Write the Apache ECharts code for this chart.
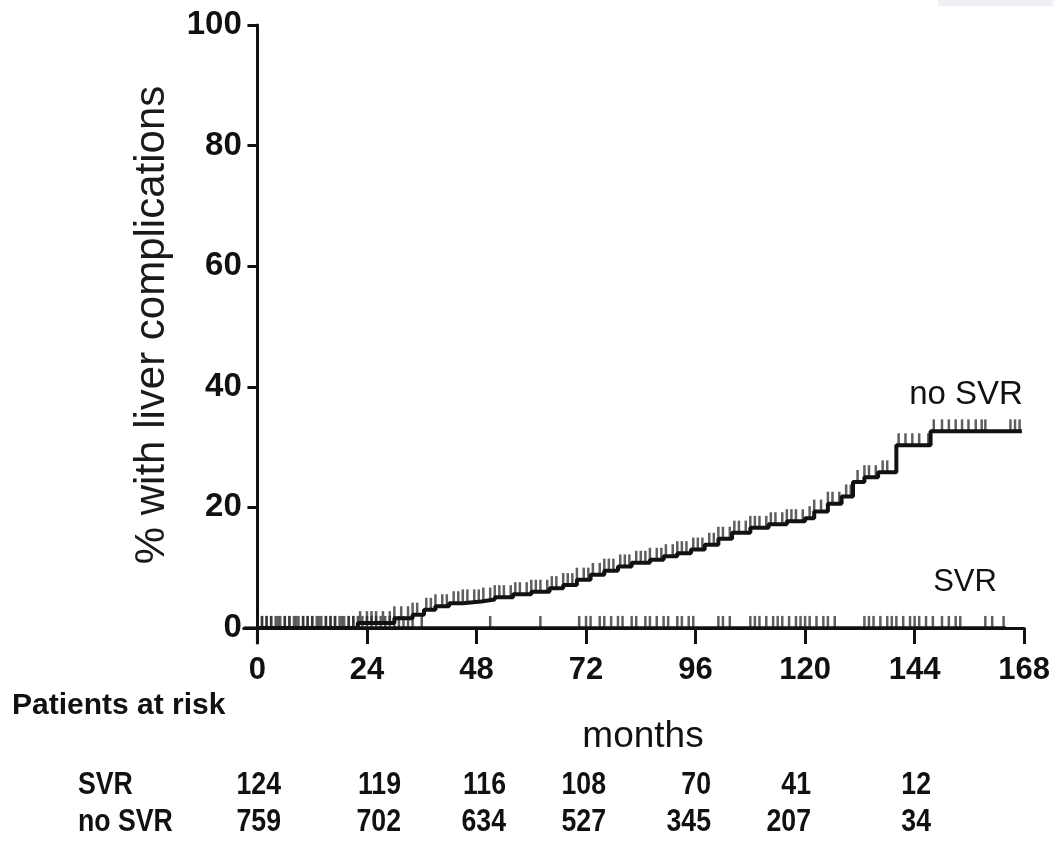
<!DOCTYPE html>
<html><head><meta charset="utf-8">
<script src="https://cdn.jsdelivr.net/npm/echarts@6/dist/echarts.min.js"></script>
<style>html,body{margin:0;padding:0;background:#fff}#c{width:1053px;height:843px}</style>
</head><body><div id="c"></div>
<script>
// ---- data ----
const xTicks = [0, 24, 48, 72, 96, 120, 144, 168];
const yTicks = [0, 20, 40, 60, 80, 100];

const noSvrTimes = [0, 22, 30, 34, 36.5, 39, 42, 45, 49, 52, 56, 60, 64, 67, 70, 73, 76, 79, 82, 86, 89, 92, 95, 98, 101, 104, 108, 112, 116, 120, 122, 125, 128, 130.5, 133, 136, 140, 147.5, 167.5];
const noSvrPct   = [0, 0.8, 1.6, 2.2, 3.0, 3.6, 4.1, 4.4, 4.7, 5.1, 5.6, 6.0, 6.6, 7.1, 8.0, 8.8, 9.5, 10.2, 10.8, 11.3, 11.9, 12.4, 13.0, 13.8, 14.8, 15.8, 16.6, 17.2, 17.7, 18.2, 19.3, 20.6, 21.8, 24.2, 25.0, 25.8, 30.3, 32.6, 32.6];

const svrTimes = [0, 164];
const svrPct   = [0, 0];

const noSvrCensor = [1,2,3,4.5,6,7,8.5,10,11,12,13.5,15,16,17,18.5,20,21,22.5,24,25,26,27.5,29,30,31.5,33,34,35,37,38,39,40.5,41.5,43,44,45,46,47.5,48.5,49.5,51,52,53,54,55.5,56.5,57.5,59,60,61,62,63.5,64.5,65.5,67,68,69,70,71.5,72.5,73.5,75,76,77,78,79.5,80.5,81.5,83,84,85,86,87.5,88.5,89.5,91,92,93,94,95.5,96.5,97.5,99,100,101,102,103.5,104.5,105.5,107,108,109,110,111.5,112.5,113.5,115,116,117,118,119.5,121,122,123.5,125,126,127.5,129,130,131.5,133,134,135.5,137,138,140.5,142,143.5,145,147,148.2,150,151.5,153,154.4,155.8,157.4,158.7,159.5,165,166,167];
const svrCensor = [1,2,3,4,5,6,7,8,9,10,11,12,13,14,15,16,17,18,19,20,21,22,23,24,25,26,27,28,29,30,31,32,33,34,36,51,62,70.5,72,73,75,76,77.5,79,80,82,83,85,86,87.5,89,90,92,93,94.5,95.5,101,102,103.5,108,109,110,111.5,113,114,115,116.5,118,119,120,121,122.5,124,125,126.5,133,134,135,136.5,138,139,140,141.5,143,144,145,146.5,148,150,151.5,153,154,159.5,161,163.5];

const riskGroups = ['SVR', 'no SVR'];
const riskSVR   = [124, 119, 116, 108, 70, 41, 12];
const riskNoSVR = [759, 702, 634, 527, 345, 207, 34];

// ---- layout (pixels) ----
const riskColRight = [281, 401, 506, 606, 711, 811, 931];
const riskRowY = [785, 822];
const X_MIN = -3, Y_MIN = -2.5;

function stepAt(ts, vs, t) {
  let v = vs[0];
  for (let i = 0; i < ts.length; i++) { if (ts[i] <= t) v = vs[i]; }
  return v;
}
const noSvrLine = noSvrTimes.map((t, i) => [t, noSvrPct[i]]);
const svrLine = svrTimes.map((t, i) => [t, svrPct[i]]);
const noSvrMarks = noSvrCensor.map(t => [t, stepAt(noSvrTimes, noSvrPct, t)]);
const svrMarks = svrCensor.map(t => [t, stepAt(svrTimes, svrPct, t)]);

const FONT = '"Liberation Sans", Arial, sans-serif';
const INK = '#111';

const chart = echarts.init(document.getElementById('c'), null, {renderer: 'canvas'});

function tableText(x, y, text, align) {
  return {type: 'text', x: x, y: y, scaleX: 0.86,
    style: {text: text, font: 'bold 31px ' + FONT, fill: INK, align: align, verticalAlign: 'middle'}};
}

const graphics = [
  {type: 'rect', shape: {x: 938, y: 0, width: 115, height: 6}, style: {fill: '#eff0f4'}, silent: true},
  {type: 'text', x: 152, y: 325, rotation: Math.PI / 2,
   style: {text: '% with liver complications', font: '42px ' + FONT, fill: '#1a1a1a', align: 'center', verticalAlign: 'middle'}},
  {type: 'text', x: 966, y: 395, style: {text: 'no SVR', font: '33px ' + FONT, fill: INK, align: 'center', verticalAlign: 'middle'}},
  {type: 'text', x: 965, y: 582, style: {text: 'SVR', font: '31px ' + FONT, fill: INK, align: 'center', verticalAlign: 'middle'}},
  {type: 'text', x: 12, y: 706, style: {text: 'Patients at risk', font: 'bold 30px ' + FONT, fill: INK, align: 'left', verticalAlign: 'middle'}},
  {type: 'text', x: 643, y: 737, style: {text: 'months', font: '37px ' + FONT, fill: INK, align: 'center', verticalAlign: 'middle'}},
  tableText(78, riskRowY[0], riskGroups[0], 'left'),
  tableText(78, riskRowY[1], riskGroups[1], 'left')
];
riskSVR.forEach((n, i) => graphics.push(tableText(riskColRight[i], riskRowY[0], String(n), 'right')));
riskNoSVR.forEach((n, i) => graphics.push(tableText(riskColRight[i], riskRowY[1], String(n), 'right')));

chart.setOption({
  animation: false,
  backgroundColor: '#fff',
  grid: {left: 243.75, right: 26, top: 25, bottom: 200, containLabel: false},
  xAxis: {
    type: 'value', min: X_MIN, max: 168,
    axisLine: {onZero: true, lineStyle: {color: INK, width: 3}},
    axisTick: {customValues: xTicks, length: 16, lineStyle: {color: INK, width: 3}},
    axisLabel: {customValues: xTicks, margin: 12, color: INK, fontSize: 31, fontWeight: 'bold', fontFamily: FONT},
    splitLine: {show: false}
  },
  yAxis: {
    type: 'value', min: Y_MIN, max: 100,
    axisLine: {onZero: true, lineStyle: {color: INK, width: 3}},
    axisTick: {customValues: yTicks, length: 10, lineStyle: {color: INK, width: 3}},
    axisLabel: {customValues: yTicks, margin: 2, color: INK, fontSize: 33, fontWeight: 'bold', fontFamily: FONT},
    splitLine: {show: false}
  },
  series: [
    {type: 'line', name: 'no SVR', data: noSvrLine, step: 'end', showSymbol: false, symbol: 'none',
     lineStyle: {color: INK, width: 4}, z: 3},
    {type: 'line', name: 'SVR', data: svrLine, step: 'end', showSymbol: false, symbol: 'none',
     lineStyle: {color: INK, width: 3.5}, z: 3},
    {type: 'scatter', name: 'no SVR censored', data: noSvrMarks, symbol: 'rect', symbolSize: [2.5, 12], symbolOffset: [0, -6],
     itemStyle: {color: '#2a2a2a', opacity: 0.75}, z: 2},
    {type: 'scatter', name: 'SVR censored', data: svrMarks, symbol: 'rect', symbolSize: [2.5, 12], symbolOffset: [0, -6],
     itemStyle: {color: '#2a2a2a', opacity: 0.75}, z: 2}
  ],
  graphic: graphics
});

// axis line extensions beyond the origin (Prism style)
const o = chart.convertToPixel({gridIndex: 0}, [0, 0]);
const ext = chart.convertToPixel({gridIndex: 0}, [X_MIN, Y_MIN]);
graphics.push({type: 'line', shape: {x1: ext[0], y1: o[1], x2: o[0], y2: o[1]}, style: {stroke: INK, lineWidth: 3}});
graphics.push({type: 'line', shape: {x1: o[0], y1: o[1], x2: o[0], y2: ext[1]}, style: {stroke: INK, lineWidth: 3}});
chart.setOption({graphic: graphics});
</script>
</body></html>
